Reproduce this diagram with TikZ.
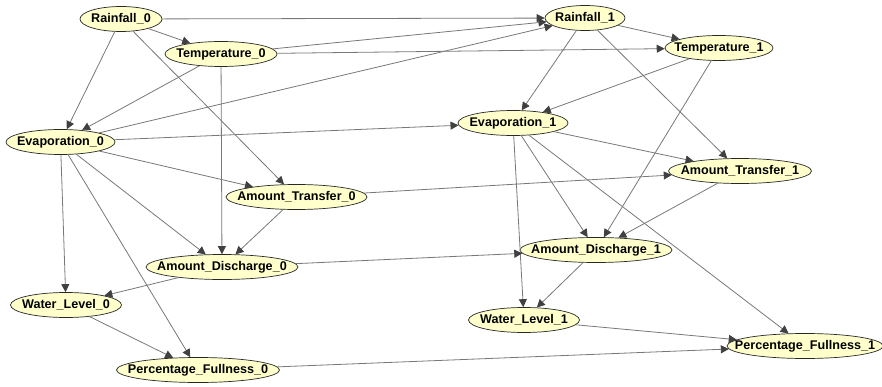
\documentclass[tikz,border=0pt]{standalone}
\usepackage{fontspec}
\setmainfont{Liberation Sans}
\usetikzlibrary{shapes.geometric,arrows.meta}

\definecolor{nodefill}{RGB}{255,255,204}
\definecolor{nodeline}{RGB}{40,40,40}
\definecolor{edgegray}{RGB}{120,120,120}
\definecolor{tipgray}{RGB}{64,64,64}

% zero-width label so the ellipse size is set only by its minimum size
\newcommand\nodelabel[1]{\makebox[0pt]{#1}}

\begin{document}
\begin{tikzpicture}[x=1pt,y=-1pt,
  bn/.style={ellipse, draw=nodeline, line width=0.7pt, fill=nodefill,
    inner sep=0pt, minimum height=25pt,
    font=\fontsize{12.6}{14}\selectfont\bfseries},
  dep/.style={draw=edgegray, line width=0.8pt,
    -{Triangle[length=8pt,width=8pt,color=tipgray]}}]

\useasboundingbox (0,0) rectangle (882,387);

% time slice 0
\node[bn, minimum width=82pt]  (r0)  at (121,19)   {\nodelabel{Rainfall\_0}};
\node[bn, minimum width=112pt] (t0)  at (221,54)   {\nodelabel{Temperature\_0}};
\node[bn, minimum width=109pt] (e0)  at (60.5,142) {\nodelabel{Evaporation\_0}};
\node[bn, minimum width=141pt] (at0) at (296.5,197){\nodelabel{Amount\_Transfer\_0}};
\node[bn, minimum width=152pt] (ad0) at (222,267)  {\nodelabel{Amount\_Discharge\_0}};
\node[bn, minimum width=111pt] (wl0) at (66,305)   {\nodelabel{Water\_Level\_0}};
\node[bn, minimum width=163pt] (pf0) at (198,370)  {\nodelabel{Percentage\_Fullness\_0}};

% time slice 1
\node[bn, minimum width=80pt]  (r1)  at (585,18)   {\nodelabel{Rainfall\_1}};
\node[bn, minimum width=108pt] (t1)  at (719,48)   {\nodelabel{Temperature\_1}};
\node[bn, minimum width=110pt] (e1)  at (513,123)  {\nodelabel{Evaporation\_1}};
\node[bn, minimum width=143pt] (at1) at (740,171)  {\nodelabel{Amount\_Transfer\_1}};
\node[bn, minimum width=152pt] (ad1) at (596,250)  {\nodelabel{Amount\_Discharge\_1}};
\node[bn, minimum width=111pt] (wl1) at (524,320)  {\nodelabel{Water\_Level\_1}};
\node[bn, minimum width=156pt] (pf1) at (805,346)  {\nodelabel{Percentage\_Fullness\_1}};

% dependencies within slice 0
\draw[dep] (r0) -- (t0);
\draw[dep] (r0) -- (e0);
\draw[dep] (r0) -- (at0);
\draw[dep] (t0) -- (e0);
\draw[dep] (t0) -- (ad0);
\draw[dep] (e0) -- (at0);
\draw[dep] (e0) -- (ad0);
\draw[dep] (e0) -- (wl0);
\draw[dep] (e0) -- (pf0);
\draw[dep] (at0) -- (ad0);
\draw[dep] (ad0) -- (wl0);
\draw[dep] (wl0) -- (pf0);

% dependencies within slice 1
\draw[dep] (r1) -- (t1);
\draw[dep] (r1) -- (e1);
\draw[dep] (r1) -- (at1);
\draw[dep] (t1) -- (e1);
\draw[dep] (t1) -- (ad1);
\draw[dep] (e1) -- (at1);
\draw[dep] (e1) -- (ad1);
\draw[dep] (e1) -- (wl1);
\draw[dep] (e1) -- (pf1);
\draw[dep] (at1) -- (ad1);
\draw[dep] (ad1) -- (wl1);
\draw[dep] (wl1) -- (pf1);

% dependencies between the slices
\draw[dep] (r0) -- (r1);
\draw[dep] (t0) -- (r1);
\draw[dep] (t0) -- (t1);
\draw[dep] (e0) -- (r1);
\draw[dep] (e0) -- (e1);
\draw[dep] (at0) -- (at1);
\draw[dep] (ad0) -- (ad1);
\draw[dep] (pf0) -- (pf1);

\end{tikzpicture}
\end{document}
